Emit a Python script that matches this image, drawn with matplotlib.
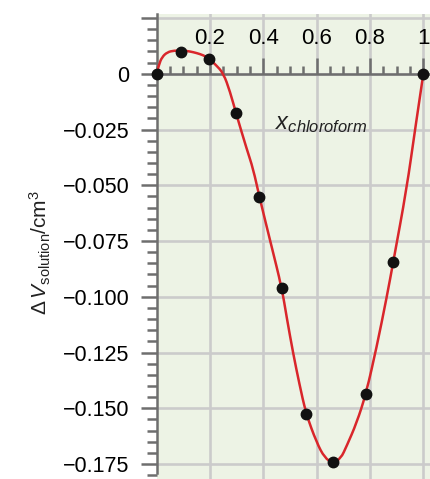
import matplotlib
matplotlib.use("Agg")
import matplotlib.pyplot as plt
from matplotlib.path import Path
from matplotlib.patches import PathPatch
from matplotlib.ticker import FixedLocator, MultipleLocator

plt.rcParams['font.family'] = ['Liberation Sans', 'DejaVu Sans']
plt.rcParams['mathtext.fontset'] = 'custom'
plt.rcParams['mathtext.rm'] = 'Liberation Sans'
plt.rcParams['mathtext.it'] = 'Liberation Sans:italic'

# measured points
x_points = [0.0, 0.091, 0.195, 0.297, 0.385, 0.469, 0.56, 0.66, 0.785, 0.887, 1.0]
dv_points = [0.0, 0.0096, 0.0068, -0.0175, -0.0552, -0.0959, -0.1524, -0.1743, -0.1435, -0.0845, 0.0]

# fitted curve
x_curve = [0.0, 0.008, 0.02, 0.04, 0.065, 0.1, 0.125, 0.15, 0.175, 0.194, 0.22, 0.25,
           0.275, 0.297, 0.3375, 0.362, 0.385, 0.43, 0.469, 0.4875, 0.512, 0.535, 0.56,
           0.6, 0.63, 0.66, 0.69, 0.7125, 0.75, 0.785, 0.825, 0.8625, 0.887, 0.9375,
           0.969, 1.0]
dv_curve = [0.0, 0.0040, 0.0075, 0.0097, 0.0104, 0.0104, 0.0100, 0.0093, 0.0083, 0.0070,
            0.0042, 0.0003, -0.0080, -0.0175, -0.0337, -0.0427, -0.0552, -0.0770, -0.0959,
            -0.1092, -0.1255, -0.1390, -0.1524, -0.1654, -0.1722, -0.1745, -0.1726, -0.1669,
            -0.1565, -0.1435, -0.1225, -0.1003, -0.0845, -0.0515, -0.0249, 0.0]

x_ticks = [0.2, 0.4, 0.6, 0.8, 1.0]
x_tick_labels = ['0.2', '0.4', '0.6', '0.8', '1']
y_ticks = [0.025, 0, -0.025, -0.05, -0.075, -0.1, -0.125, -0.15, -0.175]
y_tick_labels = ['', '0', '\u22120.025', '\u22120.050', '\u22120.075', '\u22120.100',
                 '\u22120.125', '\u22120.150', '\u22120.175']

axis_grey = '#6e6e6e'

fig = plt.figure(figsize=(4.30, 4.79), dpi=100)
ax = fig.add_axes([156.7 / 430, 0, 273.3 / 430, 465 / 479])
ax.set_facecolor('#edf3e5')
ax.set_xlim(0, 1.025)
ax.set_ylim(-0.1817, 0.0268)

# grid
for gx in x_ticks:
    ax.axvline(gx, color='#cbcbcb', lw=1.9, zorder=0)
for gy in y_ticks:
    ax.axhline(gy, color='#cbcbcb', lw=1.9, zorder=0)

# smooth the read curve: quadratic Bezier segments between midpoints
pts = list(zip(x_curve, dv_curve))
verts = [pts[0]]
codes = [Path.MOVETO]
for i in range(1, len(pts) - 1):
    mid = ((pts[i][0] + pts[i + 1][0]) / 2, (pts[i][1] + pts[i + 1][1]) / 2)
    if i == len(pts) - 2:
        mid = pts[-1]
    verts += [pts[i], mid]
    codes += [Path.CURVE3, Path.CURVE3]
ax.add_patch(PathPatch(Path(verts, codes), fill=False, edgecolor='#d9262b',
                       lw=1.8, zorder=3, capstyle='round'))

ax.plot(x_points, dv_points, 'o', color='#111111', ms=7.5, zorder=4, clip_on=False)

# spines: x axis runs along zero, ticks pointing up
for s in ['right', 'bottom']:
    ax.spines[s].set_visible(False)
ax.spines['top'].set_position(('data', 0))
ax.spines['top'].set_color(axis_grey)
ax.spines['top'].set_linewidth(1.8)
ax.spines['top'].set_zorder(2)
ax.spines['left'].set_color(axis_grey)
ax.spines['left'].set_linewidth(1.8)
ax.spines['left'].set_bounds(-0.179, 0.0268)

ax.xaxis.tick_top()
ax.xaxis.set_major_locator(FixedLocator(x_ticks))
ax.set_xticklabels(x_tick_labels)
ax.xaxis.set_minor_locator(MultipleLocator(0.05))
ax.tick_params(axis='x', which='major', direction='out', length=11.5, width=1.8,
               color=axis_grey, pad=6, labelsize=16)
ax.tick_params(axis='x', which='minor', direction='out', length=6, width=1.8,
               color=axis_grey)

ax.yaxis.set_major_locator(FixedLocator(y_ticks))
ax.set_yticklabels(y_tick_labels)
ax.yaxis.set_minor_locator(MultipleLocator(0.005))
ax.tick_params(axis='y', which='major', direction='out', length=11.5, width=1.8,
               color=axis_grey, pad=8, labelsize=15.5)
ax.tick_params(axis='y', which='minor', direction='out', length=7, width=1.8,
               color=axis_grey)

ax.text(0.616, -0.0226, r'$\mathit{x}_{\mathit{chloroform}}$', fontsize=17,
        ha='center', va='center', color='#222222')

fig.text(40 / 430, 1 - 253 / 479, r'$\Delta\,V_{\mathrm{solution}}/\mathrm{cm}^3$',
         rotation=90, ha='center', va='center', fontsize=15, color='#222222')

fig.savefig('out.png', dpi=100)
